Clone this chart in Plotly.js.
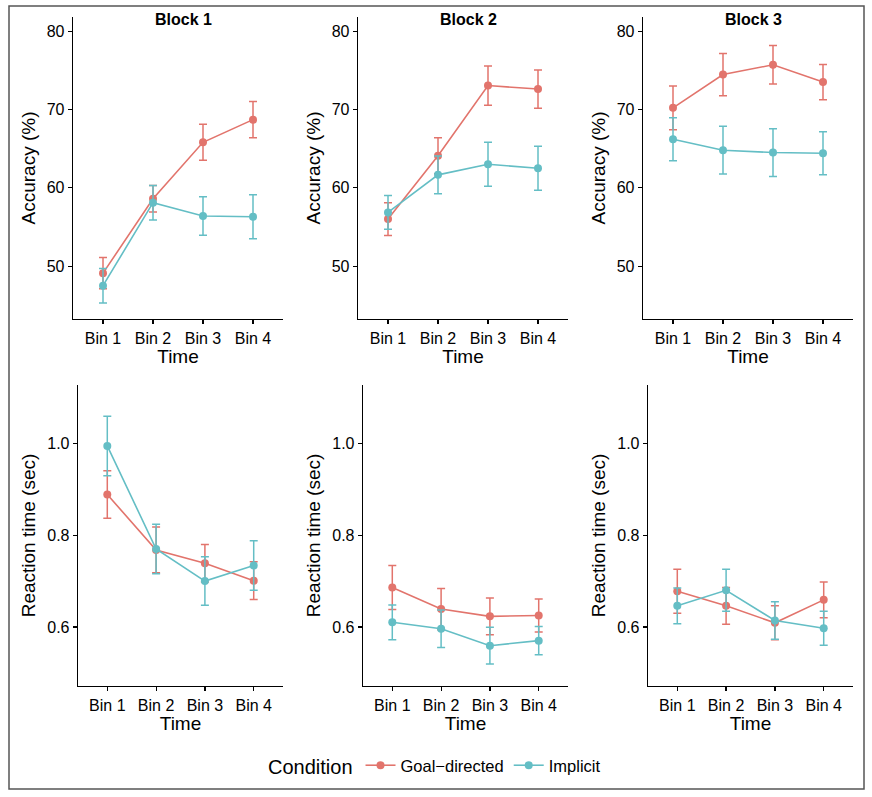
<!DOCTYPE html>
<html>
<head>
<meta charset="utf-8">
<script src="https://cdn.plot.ly/plotly-3.0.1.min.js"></script>
<style>html,body{margin:0;padding:0;background:#fff;}#chart{width:872px;height:797px;}</style>
</head>
<body>
<div id="chart"></div>
<script>
// ---- data ----
const bins = ["Bin 1", "Bin 2", "Bin 3", "Bin 4"];
const blocks = ["Block 1", "Block 2", "Block 3"];
const conditions = ["Goal\u2212directed", "Implicit"];

// Accuracy (%) per block
const accGoal1 = [49.1, 58.6, 65.8, 68.7];
const accGoal1Err = [2.0, 1.7, 2.3, 2.3];
const accImpl1 = [47.5, 58.1, 56.4, 56.3];
const accImpl1Err = [2.2, 2.2, 2.45, 2.8];

const accGoal2 = [56.0, 64.1, 73.05, 72.6];
const accGoal2Err = [2.1, 2.3, 2.5, 2.45];
const accImpl2 = [56.85, 61.65, 63.0, 62.5];
const accImpl2Err = [2.15, 2.4, 2.8, 2.8];

const accGoal3 = [70.2, 74.45, 75.7, 73.5];
const accGoal3Err = [2.8, 2.7, 2.45, 2.25];
const accImpl3 = [66.2, 64.8, 64.5, 64.4];
const accImpl3Err = [2.75, 3.05, 3.05, 2.75];

// Reaction time (sec) per block
const rtGoal1 = [0.889, 0.768, 0.739, 0.701];
const rtGoal1Err = [0.052, 0.050, 0.041, 0.041];
const rtImpl1 = [0.995, 0.770, 0.700, 0.734];
const rtImpl1Err = [0.065, 0.054, 0.053, 0.054];

const rtGoal2 = [0.686, 0.639, 0.623, 0.625];
const rtGoal2Err = [0.048, 0.045, 0.040, 0.036];
const rtImpl2 = [0.610, 0.596, 0.559, 0.570];
const rtImpl2Err = [0.038, 0.041, 0.040, 0.031];

const rtGoal3 = [0.678, 0.646, 0.609, 0.659];
const rtGoal3Err = [0.048, 0.040, 0.037, 0.039];
const rtImpl3 = [0.646, 0.680, 0.614, 0.597];
const rtImpl3Err = [0.039, 0.046, 0.041, 0.037];

// ---- styling ----
const colGoal = "#E2746C";
const colImpl = "#64BEC5";
const font = "Liberation Sans, Arial, Helvetica, sans-serif";

const panels = [
  {g: accGoal1, ge: accGoal1Err, i: accImpl1, ie: accImpl1Err},
  {g: accGoal2, ge: accGoal2Err, i: accImpl2, ie: accImpl2Err},
  {g: accGoal3, ge: accGoal3Err, i: accImpl3, ie: accImpl3Err},
  {g: rtGoal1, ge: rtGoal1Err, i: rtImpl1, ie: rtImpl1Err},
  {g: rtGoal2, ge: rtGoal2Err, i: rtImpl2, ie: rtImpl2Err},
  {g: rtGoal3, ge: rtGoal3Err, i: rtImpl3, ie: rtImpl3Err}
];

const W = 872, H = 797;
const xPix = [[73,283],[358,568],[643,853],[78,283],[363,568],[648,853]];
const yPixTop = [17,319], yPixBot = [385,686];

const traces = [];
panels.forEach((p, k) => {
  const ax = k === 0 ? "" : String(k+1);
  const mk = (y, e, col, name, show) => ({
    type: "scatter", mode: "lines+markers",
    x: bins, y: y, name: name,
    xaxis: "x" + ax, yaxis: "y" + ax,
    legendgroup: name, showlegend: show,
    line: {color: col, width: 1.6},
    marker: {color: col, size: 8},
    error_y: {type: "data", array: e, visible: true, color: col, thickness: 1.5, width: 4}
  });
  traces.push(mk(p.g, p.ge, colGoal, conditions[0], k === 0));
  traces.push(mk(p.i, p.ie, colImpl, conditions[1], k === 0));
});

const layout = {
  width: W, height: H,
  margin: {l: 0, r: 0, t: 0, b: 0},
  paper_bgcolor: "#fff", plot_bgcolor: "#fff",
  font: {family: font, color: "#000", size: 16},
  showlegend: true,
  legend: {
    orientation: "h", x: 0.5, xanchor: "center", y: 1 - 766/H, yanchor: "middle",
    title: {text: "Condition", font: {size: 20}, side: "left"},
    font: {size: 16.5}, tracegroupgap: 0
  },
  annotations: [],
  shapes: [{
    type: "rect", xref: "paper", yref: "paper",
    x0: 9/W, x1: 864/W, y0: 1 - 789/H, y1: 1 - 6/H,
    line: {color: "#555", width: 1.5}, fillcolor: "rgba(0,0,0,0)"
  }]
};

for (let k = 0; k < 6; k++) {
  const ax = k === 0 ? "" : String(k+1);
  const top = k < 3;
  const yp = top ? yPixTop : yPixBot;
  layout["xaxis" + ax] = {
    domain: [xPix[k][0]/W, xPix[k][1]/W],
    anchor: "y" + ax,
    type: "category", categoryarray: bins, range: [-0.6, 3.6],
    showline: true, linecolor: "#000", linewidth: 1.3,
    ticks: "outside", ticklen: 4, tickcolor: "#000", tickwidth: 1.2,
    showgrid: false, zeroline: false,
    tickfont: {size: 16, color: "#000"},
    title: {text: "Time", font: {size: 19, color: "#000"}, standoff: 3}
  };
  layout["yaxis" + ax] = {
    domain: [1 - yp[1]/H, 1 - yp[0]/H],
    anchor: "x" + ax,
    range: top ? [43.25, 81.8] : [0.471, 1.128],
    tickvals: top ? [50, 60, 70, 80] : [0.6, 0.8, 1.0],
    ticktext: top ? ["50", "60", "70", "80"] : ["0.6", "0.8", "1.0"],
    showline: true, linecolor: "#000", linewidth: 1.3,
    ticks: "outside", ticklen: 4, tickcolor: "#000", tickwidth: 1.2,
    showgrid: false, zeroline: false,
    tickfont: {size: 16, color: "#000"},
    title: {text: top ? "Accuracy (%)" : "Reaction time (sec)", font: {size: 19, color: "#000"}, standoff: 6}
  };
  if (top) {
    layout.annotations.push({
      text: "<b>" + blocks[k] + "</b>", xref: "paper", yref: "paper",
      x: (xPix[k][0] + xPix[k][1]) / 2 / W + 5/W, y: 1 - 20/H,
      xanchor: "center", yanchor: "middle", showarrow: false,
      font: {size: 16, color: "#000"}
    });
  }
}

Plotly.newPlot("chart", traces, layout, {staticPlot: true, displayModeBar: false});
</script>
</body>
</html>
